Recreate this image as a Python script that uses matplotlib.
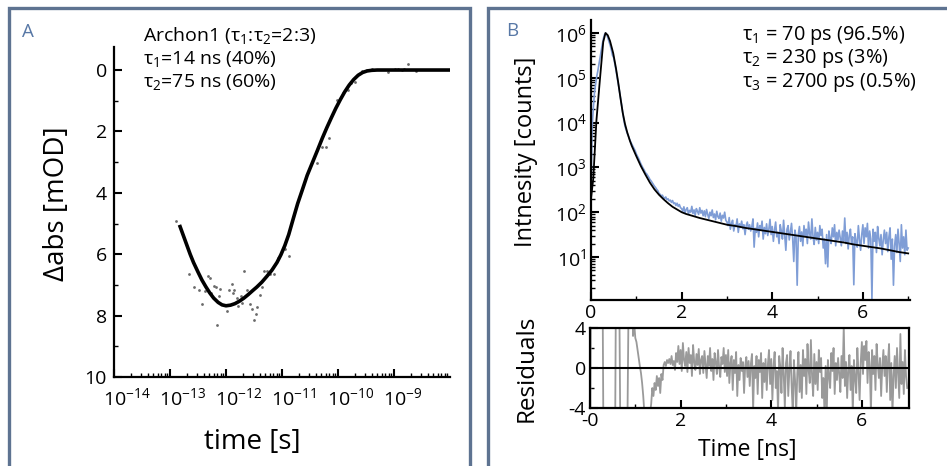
import matplotlib
matplotlib.use('Agg')
import matplotlib.pyplot as plt
import matplotlib.ticker as ticker
import matplotlib.transforms as mtransforms
from matplotlib.patches import Rectangle
import numpy as np

plt.rcParams['font.family'] = ['Open Sans', 'DejaVu Sans']
plt.rcParams['mathtext.fontset'] = 'custom'
plt.rcParams['mathtext.rm'] = 'Open Sans'
plt.rcParams['mathtext.default'] = 'regular'

# ---- panel A: transient absorption, log time axis ----
scatter_logt = [-12.90, -12.66, -12.57, -12.49, -12.43, -12.375, -12.33, -12.29, -12.27, -12.21,
                -12.18, -12.16, -12.13, -12.10, -11.99, -11.94, -11.90, -11.87, -11.85, -11.81,
                -11.78, -11.74, -11.72, -11.68, -11.63, -11.57, -11.54, -11.50, -11.47, -11.44,
                -11.39, -11.36, -11.32, -11.27, -11.21, -11.14, -11.07, -10.95, -10.875,
                -10.38, -10.29, -10.22, -10.16, -10.01, -9.91, -9.83, -9.76, -9.69, -9.58,
                -9.49, -9.40, -9.11, -8.98, -8.92, -8.86, -8.82, -8.745, -8.60]
scatter_dabs = [4.91, 6.66, 7.06, 7.18, 7.62, 7.20, 6.71, 6.79, 7.26, 7.02,
                7.06, 8.32, 7.37, 7.12, 7.84, 7.18, 6.96, 7.26, 7.18, 7.42,
                7.69, 7.37, 7.58, 6.55, 7.15, 7.61, 7.78, 8.13, 7.95, 7.73,
                7.34, 7.07, 6.55, 6.55, 6.66, 6.66, 6.11, 5.84, 6.05,
                3.02, 2.50, 2.50, 2.23, 0.97, 0.75, 0.64, 0.43, 0.39, 0.04,
                -0.01, -0.03, 0.08, -0.03, -0.03, -0.01, -0.03, -0.18, 0.02]

fit_a_logt = [-12.82, -12.75, -12.70, -12.64, -12.58, -12.50, -12.43, -12.36, -12.29, -12.22,
              -12.14, -12.07, -12.00, -11.92, -11.84, -11.76, -11.68, -11.60, -11.52, -11.45,
              -11.36, -11.27, -11.18, -11.09, -11.02, -10.95, -10.88, -10.80, -10.72, -10.64,
              -10.55, -10.46, -10.37, -10.28, -10.20, -10.12, -10.04, -9.96, -9.88, -9.80,
              -9.72, -9.64, -9.56, -9.48, -9.40, -9.30, -8.00]
fit_a_dabs = [5.10, 5.45, 5.70, 6.00, 6.27, 6.58, 6.84, 7.06, 7.26, 7.43,
              7.57, 7.65, 7.68, 7.66, 7.61, 7.53, 7.43, 7.31, 7.18, 7.07,
              6.91, 6.72, 6.52, 6.27, 6.02, 5.72, 5.36, 4.85, 4.35, 3.92,
              3.43, 3.03, 2.63, 2.22, 1.88, 1.56, 1.25, 0.97, 0.71, 0.49,
              0.31, 0.17, 0.08, 0.03, 0.01, 0.00, 0.00]

# ---- panel B: fluorescence decay (log10 counts), 25 ps bins ----
bin_ns = 0.025
counts_log = [
    2.5, 3.9, 4.3, 4.65, 4.85, 5.02, 5.15, 5.3, 5.45, 5.6, 5.75, 5.88, 5.97, 6.0, 5.96, 5.88, 5.8, 5.72, 5.62, 5.5,
    5.45, 5.32, 5.18, 5.03, 4.88, 4.72, 4.56, 4.40, 4.22, 4.05, 3.92, 3.84, 3.76, 3.70, 3.63, 3.57, 3.52, 3.47, 3.42, 3.37,
    3.30, 3.25, 3.20, 3.14, 3.08, 3.03, 2.98, 2.94, 2.88, 2.86, 2.82, 2.78, 2.73, 2.70, 2.66, 2.62, 2.58, 2.55, 2.51, 2.48,
    2.42, 2.40, 2.36, 2.38, 2.33, 2.31, 2.34, 2.28, 2.30, 2.25, 2.27, 2.22, 2.26, 2.19, 2.21, 2.15, 2.20, 2.13, 2.17, 2.10,
    2.08, 2.02, 2.12, 1.98, 2.06, 2.10, 1.96, 2.04, 2.00, 2.13, 1.97, 2.05, 1.93, 2.08, 2.02, 1.95, 2.10, 1.98, 2.04, 1.92,
    2.03, 1.90, 2.06, 1.95, 1.86, 2.00, 1.92, 2.05, 1.88, 1.96, 1.83, 2.02, 1.90, 1.86, 1.98, 1.80, 1.93, 1.87, 2.00, 1.82,
    1.78, 1.70, 1.88, 1.62, 1.75, 1.82, 1.58, 1.72, 1.68, 1.85, 1.55, 1.74, 1.66, 1.80, 1.63, 1.72, 1.50, 1.70, 1.78, 1.62,
    1.72, 1.58, 1.68, 1.85, 1.22, 1.64, 1.55, 1.76, 1.45, 1.70, 1.60, 1.80, 1.40, 1.66, 1.52, 1.74, 1.48, 1.62, 1.84, 1.50,
    1.68, 1.35, 1.60, 1.78, 1.45, 1.55, 1.30, 1.72, 1.58, 1.40, 1.82, 1.50, 1.15, 1.62, 1.70, 1.38, 1.55, 1.75, 1.42, 0.90,
    1.60, 1.45, 0.37, 1.50, 1.68, 1.35, 1.56, 1.25, 1.70, 1.48, 1.62, 1.30, 1.78, 1.52, 1.40, 1.85, 1.45, 1.28, 1.66, 1.38,
    1.55, 1.30, 1.70, 1.48, 1.62, 1.20, 1.40, 0.85, 1.50, 0.78, 1.58, 1.42, 1.30, 1.65, 1.45, 1.72, 1.25, 1.55, 1.38, 1.60,
    1.42, 1.25, 1.58, 1.35, 1.87, 1.30, 1.55, 1.18, 1.48, 1.62, 1.28, 1.45, 0.38, 1.52, 1.35, 1.22, 1.70, 1.40, 1.15, 1.50,
    1.72, 1.30, 1.65, 1.45, 1.75, 1.20, 1.58, 1.40, 0.05, 1.62, 1.35, 1.55, 1.10, 1.68, 1.42, 1.25, 1.50, 1.05, 1.38, 1.60,
    1.30, 1.55, 1.12, 1.45, 1.65, 0.95, 1.40, 0.37, 1.25, 1.50, 1.10, 1.62, 1.30, 0.90, 1.72, 1.20, 1.45, 1.05, 1.60, 1.15,
    1.20]

fit_b_t = [0.0, 0.05, 0.12, 0.2, 0.27, 0.32, 0.37, 0.42, 0.49, 0.55,
           0.6, 0.65, 0.7, 0.75, 0.8, 0.86, 0.9, 1.0, 1.1, 1.2,
           1.3, 1.4, 1.5, 1.6, 1.7, 1.8, 1.9, 2.0, 2.1, 2.2,
           2.3, 2.4, 2.6, 2.8, 3.0, 3.2, 3.4, 3.6, 3.8, 4.0,
           4.2, 4.4, 4.6, 4.8, 5.0, 5.2, 5.4, 5.6, 5.8, 6.0,
           6.2, 6.4, 6.6, 6.8, 7.0]
fit_b_log = [2.3, 2.75, 4.05, 5.0, 5.8, 6.0, 5.95, 5.82, 5.55, 5.22,
             4.9, 4.55, 4.22, 3.97, 3.78, 3.59, 3.48, 3.25, 3.03, 2.84,
             2.66, 2.51, 2.39, 2.29, 2.20, 2.12, 2.06, 2.00, 1.96, 1.93,
             1.90, 1.87, 1.82, 1.77, 1.72, 1.69, 1.65, 1.62, 1.59, 1.56,
             1.53, 1.50, 1.47, 1.44, 1.41, 1.38, 1.35, 1.32, 1.28, 1.25,
             1.22, 1.19, 1.15, 1.11, 1.08]

residuals = [
    -10, 10, 10, 10, 10, 10, 10, 10, 10, 10, 10, 10, -10, -10, -10, -10, -10, -10, -10, -10,
    -10, -10, -10, 10, 10, 10, 5, -10, -10, -10, -10, -10, -10, -6, 6, 10, 10, 10, 3.2, 4.5,
    3.0, 2.6, 1.8, 1.0, 0.2, -0.5, -1.5, -2.8, -4.5, -6, -5.5, -4.2, -5, -4.5, -3.6, -2.0, -2.8, -1.5, -2.2, -0.8,
    -1.8, -1.0, -2.5, -0.6, -1.2, 0.3, 0.6, 0.2, 0.8, 0.5, 0.9, 0.4, 1.2, 0.3, 0.7, -0.2, 1.5, 0.6, 2.2, 0.4,
    1.8, -0.3, 2.5, 0.8, 0.2, 1.6, -0.4, 2.0, 0.5, 1.3, -0.8, 2.3, 0.6, -0.2, 1.4, 0.3, 1.9, -0.6, 0.8, 1.2,
    -0.5, 1.7, 0.4, -1.0, 1.2, 0.2, 2.0, -0.3, 0.9, -1.2, 1.5, 0.6, -0.6, 1.8, 0.1, -0.9, 1.1, 0.4, 2.0, -0.4,
    1.3, -0.8, 1.8, -1.5, 0.5, 1.2, -2.2, 0.8, -0.5, 1.6, -2.8, 0.3, -1.2, 1.0, -0.3, 0.6, -2.5, 0.2, 1.1, -0.9,
    0.7, -1.8, 0.4, 1.4, -4.2, 0.2, -1.0, 1.2, -2.6, 0.8, -0.4, 1.5, -3.0, 0.5, -1.4, 0.9, -2.2, 0.3, 1.8, -1.6,
    0.9, -3.2, 0.2, 1.6, -2.0, -0.3, -4.5, 1.2, 0.1, -2.5, 2.0, -0.6, -4.0, 0.5, 1.3, -2.8, -0.2, 1.7, -1.8, -4.5,
    0.8, -1.2, -4.5, -0.5, 1.6, -2.4, 0.3, -3.0, 1.8, -0.8, 0.9, -2.6, 2.4, -0.2, -1.5, 2.8, -0.8, -2.8, 1.4, -1.6,
    0.6, -2.2, 1.8, -0.4, 1.0, -3.0, -1.0, -4.5, 0.2, -4.5, 0.8, -0.8, -2.0, 1.5, -0.3, 2.0, -2.6, 0.5, -1.2, 1.0,
    -0.6, -2.4, 1.2, -1.0, 4.2, -1.8, 0.6, -3.0, -0.2, 1.3, -2.2, 0.2, -4.5, 0.8, -1.0, -2.5, 2.0, -0.4, -3.2, 0.6,
    2.6, -0.6, 2.2, 0.8, 2.7, -1.5, 1.6, 0.2, -4.5, 1.8, -0.6, 1.2, -2.2, 2.4, 0.4, -1.0, 1.0, -2.8, 0.2, 1.8,
    -0.8, 1.2, -2.4, 0.6, 2.4, -3.2, 0.5, -4.5, -0.8, 1.2, -2.0, 2.0, -0.6, -3.0, 3.4, -1.6, 0.6, -2.6, 1.8, -0.8,
    -2.0]

W, H = 947, 466
FRAME = '#5e7391'
LETTER = '#5878a6'
BLUE = '#7f9dd6'


def box(l, t, r, b):
    # axes rectangle from pixel edges
    return [l / W, 1 - b / H, (r - l) / W, (b - t) / H]


def style_axis(ax):
    ax.tick_params(which='both', direction='in', labelsize=14, pad=3)
    ax.tick_params(which='major', length=6, width=1.5)
    ax.tick_params(which='minor', length=3, width=1.0)
    for s in ax.spines.values():
        s.set_linewidth(1.6)


fig = plt.figure(figsize=(W / 100, H / 100), dpi=100)

# panel frames
fig.patches.append(Rectangle((9 / W, -0.1), 461 / W, 1.1 - 8 / H, transform=fig.transFigure,
                             fill=False, edgecolor=FRAME, lw=2.4))
fig.patches.append(Rectangle((488 / W, -0.1), 0.6, 1.1 - 8 / H, transform=fig.transFigure,
                             fill=False, edgecolor=FRAME, lw=2.4))

# ---- A ----
axA = fig.add_axes(box(114, 47, 450, 377))
axA.plot(10.0 ** np.array(fit_a_logt), fit_a_dabs, color='black', lw=2.6)
axA.scatter(10.0 ** np.array(scatter_logt), scatter_dabs, s=4, color='#6a6a6a', lw=0)
axA.set_xscale('log')
axA.set_xlim(1e-14, 1e-8)
axA.set_ylim(10, -0.75)
axA.spines['top'].set_visible(False)
axA.spines['right'].set_visible(False)
style_axis(axA)
axA.tick_params(axis='x', pad=7)
axA.tick_params(axis='y', pad=5)
dec = list(range(-14, -8))
axA.xaxis.set_major_locator(ticker.FixedLocator([10.0 ** e for e in dec]))
axA.xaxis.set_major_formatter(ticker.FixedFormatter(['$10^{%d}$' % e for e in dec]))
axA.xaxis.set_minor_locator(ticker.FixedLocator([m * 10.0 ** e for e in dec for m in range(2, 10)]))
axA.xaxis.set_minor_formatter(ticker.NullFormatter())
axA.set_yticks([0, 2, 4, 6, 8, 10])
axA.set_yticks([1, 3, 5, 7, 9], minor=True)
# keep the "10" of each label over its tick, exponent hanging to the right
shift = mtransforms.ScaledTranslation(-0.11, 0, fig.dpi_scale_trans)
for lab in axA.get_xticklabels():
    lab.set_horizontalalignment('left')
    lab.set_transform(lab.get_transform() + shift)

fig.text(57 / W, 1 - 204 / H, 'Δabs [mOD]', rotation=90, ha='center', va='center', fontsize=20)
fig.text(252 / W, 1 - 449 / H, 'time [s]', ha='center', va='baseline', fontsize=20)
fig.text(22 / W, 1 - 37 / H, 'A', color=LETTER, fontsize=13.5, va='baseline')
for i, line in enumerate(['Archon1 ($τ_1$:$τ_2$=2:3)', '$τ_1$=14 ns (40%)', '$τ_2$=75 ns (60%)']):
    fig.text(143 / W, 1 - (41 + 23 * i) / H, line, fontsize=14, va='baseline')

# ---- B: decay ----
t_bins = np.arange(len(counts_log)) * bin_ns
axB = fig.add_axes(box(591, 20, 910, 300))
axB.plot(t_bins, 10.0 ** np.array(counts_log), color=BLUE, lw=1.2)
axB.plot(fit_b_t, 10.0 ** np.array(fit_b_log), color='black', lw=1.3)
axB.set_yscale('log')
axB.set_xlim(0, 7.04)
axB.set_ylim(10 ** 0.04, 10 ** 6.29)
axB.spines['top'].set_visible(False)
axB.spines['right'].set_visible(False)
style_axis(axB)
axB.set_xticks([0, 2, 4, 6])
axB.set_xticks([1, 3, 5, 7], minor=True)
axB.yaxis.set_major_locator(ticker.FixedLocator([10.0 ** e for e in range(1, 7)]))
axB.yaxis.set_major_formatter(ticker.FixedFormatter(['$10^{%d}$' % e for e in range(1, 7)]))
axB.yaxis.set_minor_locator(ticker.FixedLocator([m * 10.0 ** e for e in range(0, 7) for m in range(2, 10)]))
axB.yaxis.set_minor_formatter(ticker.NullFormatter())

# ---- B: residuals ----
axR = fig.add_axes(box(590, 328, 909, 408))
axR.plot(t_bins, residuals, color='#9a9a9a', lw=1.3)
axR.axhline(0, color='black', lw=1.5)
axR.set_xlim(0, 7.04)
axR.set_ylim(-4, 4)
style_axis(axR)
axR.set_xticks([0, 2, 4, 6], ['-0', '2', '4', '6'])
axR.set_xticks([1, 3, 5], minor=True)
axR.set_yticks([-4, 0, 4], ['-4', '0', '4'])
axR.set_yticks([-2, 2], minor=True)

fig.text(526 / W, 1 - 152 / H, 'Intnesity [counts]', rotation=90, ha='center', va='center', fontsize=17)
fig.text(527 / W, 1 - 368 / H, 'Residuals', rotation=90, ha='center', va='center', fontsize=17.5)
fig.text(747 / W, 1 - 456 / H, 'Time [ns]', ha='center', va='baseline', fontsize=16.5)
fig.text(506 / W, 1 - 36 / H, 'B', color=LETTER, fontsize=13.5, va='baseline')
for i, line in enumerate(['$τ_1$ = 70 ps (96.5%)', '$τ_2$ = 230 ps (3%)', '$τ_3$ = 2700 ps (0.5%)']):
    fig.text(742 / W, 1 - (40 + 23.5 * i) / H, line, fontsize=14.3, va='baseline')

fig.savefig('out.png', dpi=100)
